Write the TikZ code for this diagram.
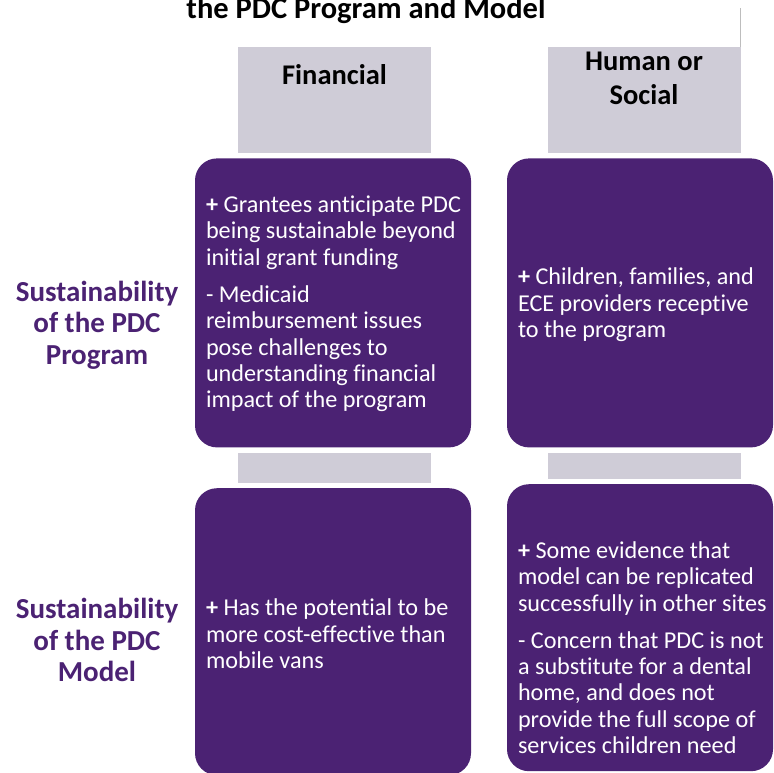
\documentclass[tikz,border=0pt]{standalone}
\usepackage{fontspec}
\setmainfont{Carlito}[Ligatures=NoCommon]
\usetikzlibrary{positioning}
\definecolor{PDCPurple}{HTML}{4B2273}
\definecolor{PDCGrey}{HTML}{CFCCD7}
\definecolor{PDCRule}{HTML}{BDBDBD}
\tikzset{
  pdccell/.style={rectangle,rounded corners=22pt,fill=PDCPurple,inner sep=0pt},
  pdctext/.style={text=white,align=left,inner sep=0pt,font=\fontsize{24.2}{26.3}\selectfont},
  pdchead/.style={rectangle,fill=PDCGrey,minimum width=193pt,minimum height=106pt,inner sep=0pt},
  pdcbar/.style={rectangle,fill=PDCGrey,minimum width=193pt,inner sep=0pt},
  pdctitle/.style={font=\bfseries\fontsize{28.5}{34}\selectfont,align=center,inner sep=0pt},
  pdcrow/.style={font=\bfseries\fontsize{29}{31.5}\selectfont,text=PDCPurple,align=center,inner sep=0pt},
  pdcrule/.style={draw=PDCRule,line width=1pt},
}

\begin{document}
\begin{tikzpicture}[x=1pt,y=-1pt,node distance=5pt]
  \useasboundingbox (0,0) rectangle (774,772);

  \node[pdctitle,anchor=base,font=\bfseries\fontsize{30.5}{34}\selectfont] (title) at (366,18)
    {the PDC Program and Model};

  % column heads
  \node[pdchead] (fin) at (334.5,100) {};
  \node[pdchead] (hum) at (644,100) {};
  \path (fin.north) ++(0,38) node[pdctitle,anchor=base] (finlbl) {Financial};
  \path (hum.north) ++(0,58) node[pdctitle,anchor=base] (humlbl) {Human or\\Social};
  \path (hum.north east) ++(-0.5,-39) coordinate (ruletop);
  \draw[pdcrule] ([xshift=-0.5pt]hum.north east) -- (ruletop);

  % program row
  \node[pdccell,below=of fin,xshift=-1.5pt,minimum width=276pt,minimum height=289pt] (progfin) {};
  \node[pdccell,below=of hum,xshift=-4pt,minimum width=266pt,minimum height=289pt] (proghum) {};
  \node[pdctext,right=11pt of progfin.west,yshift=-1pt] (progfintxt)
    {\textbf{+} Grantees anticipate PDC\\being sustainable beyond\\initial grant funding\\[11pt]
     - Medicaid\\reimbursement issues\\pose challenges to\\understanding financial\\impact of the program};
  \node[pdctext,right=11pt of proghum.west,yshift=-2pt] (proghumtxt)
    {\textbf{+} Children, families, and\\ECE providers receptive\\to the program};

  \node[pdcbar,below=of progfin,xshift=1.5pt,minimum height=30pt] (finbar) {};
  \node[pdcbar,below=of proghum,xshift=4pt,minimum height=26pt] (humbar) {};

  % model row
  \node[pdccell,below=of finbar,xshift=-1.5pt,minimum width=276pt,minimum height=287pt] (modfin) {};
  \node[pdccell,below=of humbar,xshift=-4pt,minimum width=266pt,minimum height=287pt] (modhum) {};
  \node[pdctext,right=11pt of modfin.west,yshift=-2pt] (modfintxt)
    {\textbf{+} Has the potential to be\\more cost-effective than\\mobile vans};
  \node[pdctext,right=11pt of modhum.west,yshift=-20pt] (modhumtxt)
    {\textbf{+} Some evidence that\\model can be replicated\\successfully in other sites\\[11pt]
     - Concern that PDC is not\\a substitute for a dental\\home, and does not\\provide the full scope of\\services children need};

  % row labels
  \node[pdcrow] (progrow) at (97,325) {Sustainability\\of the PDC\\Program};
  \node[pdcrow] (modrow) at (97,640) {Sustainability\\of the PDC\\Model};
\end{tikzpicture}
\end{document}
